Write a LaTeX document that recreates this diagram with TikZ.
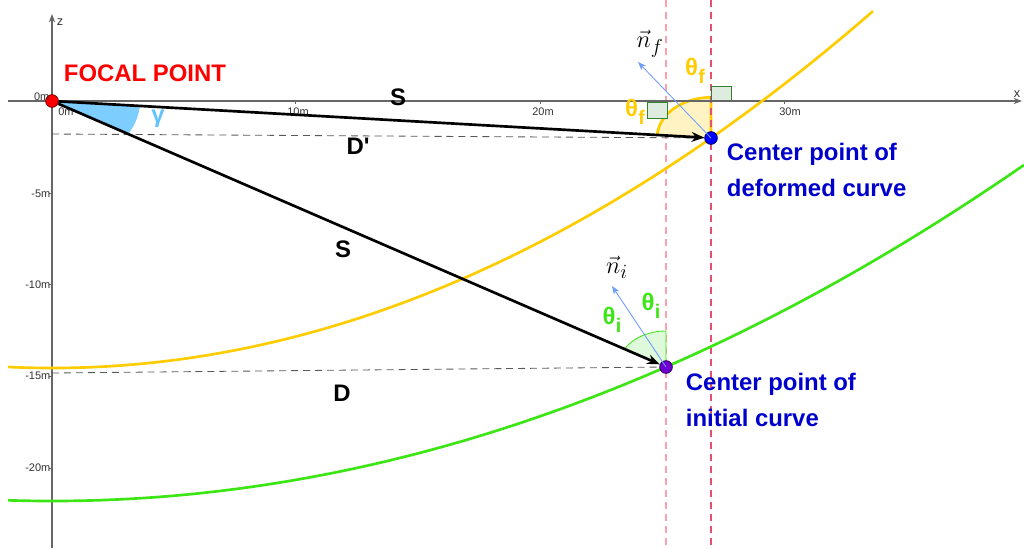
\documentclass[tikz,border=0pt]{standalone}
\usepackage{fontspec}
\setmainfont{Liberation Sans}
\newfontfamily\plainsans{Liberation Sans}
\usetikzlibrary{arrows.meta,backgrounds}
\definecolor{gold}{RGB}{255,204,0}
\definecolor{goldfill}{RGB}{255,243,196}
\definecolor{lgreen}{RGB}{60,230,20}
\definecolor{greenfill}{RGB}{222,250,218}
\definecolor{skyfill}{RGB}{125,205,255}
\definecolor{skytext}{RGB}{100,195,255}
\definecolor{nblue}{RGB}{110,155,255}
\definecolor{darkblue}{RGB}{0,0,204}
\definecolor{pinkA}{RGB}{255,160,175}
\definecolor{pinkB}{RGB}{230,80,110}
\definecolor{sqfill}{RGB}{222,236,224}
\definecolor{sqdraw}{RGB}{50,130,50}
\definecolor{ptpurple}{RGB}{110,0,210}
\newcommand\thl[1]{θ\kern0.3pt\raisebox{-0.6ex}{\fontsize{14}{14}\selectfont #1}}
\begin{document}
\begin{tikzpicture}[x=0.025cm,y=-0.025cm,
  ax/.style={draw=black!60, line width=0.9pt},
  pinkline/.style={dash pattern=on 5pt off 3.5pt, line width=0.8pt},
  curve/.style={line width=1.9pt},
  vecarrow/.style={draw=black, line width=1.9pt, -{Stealth[length=9pt,width=7pt]}},
  normalvec/.style={draw=nblue, line width=0.6pt, -{Stealth[length=6pt,width=4.5pt]}},
  dotpt/.style={circle, inner sep=0pt, minimum size=9pt, line width=0.6pt},
  big/.style={font=\fontsize{17}{25}\selectfont\bfseries},
  ticklab/.style={font=\fontsize{7.8}{9}\selectfont, text=black!80, inner sep=1pt},
  dashline/.style={draw=black!65, dash pattern=on 5pt off 3.5pt, line width=0.6pt},
  sq/.style={fill=sqfill, draw=sqdraw, line width=0.6pt},
]
\useasboundingbox (0,0) rectangle (1024,548);

% points
\node[dotpt, fill=red, draw=red!50!black] (O) at (52,101) {};
\node[dotpt, fill=blue, draw=blue!40!black] (F) at (711,138) {};
\node[dotpt, fill=ptpurple, draw=ptpurple!40!black] (I) at (666,367) {};

\coordinate (Dp0) at (52,134);
\coordinate (D0) at (52,373);
\coordinate (xa0) at (8,101);
\coordinate (xa1) at (1022,101);
\coordinate (za0) at (52,548);
\coordinate (za1) at (52,14);
\coordinate (pA0) at (666,0);
\coordinate (pA1) at (666,548);
\coordinate (pB0) at (711,0);
\coordinate (pB1) at (711,548);
\coordinate (nf) at (638,62);
\coordinate (ni) at (612,286);

\begin{scope}[on background layer]
  % pink verticals
  \draw[pinkline, pinkA] (pA0) -- (pA1);
  % sectors
  \fill[skyfill] (O.center) -- plot[domain=-29.95:-4.27,samples=30] ({52+88*cos(\x)},{101-66*sin(\x)}) -- cycle;
  \fill[goldfill] (F.center) -- plot[domain=90:175.73,samples=40] ({711+54*cos(\x)},{138-40.6*sin(\x)}) -- cycle;
  \draw[gold, line width=1.9pt] (F.center) -- plot[domain=90:175.73,samples=40] ({711+54*cos(\x)},{138-40.6*sin(\x)});
  \fill[greenfill] (I.center) -- plot[domain=90:150.05,samples=30] ({666+47.9*cos(\x)},{367-36*sin(\x)}) -- cycle;
  \draw[lgreen, line width=0.6pt] (I.center) -- plot[domain=90:150.05,samples=30] ({666+47.9*cos(\x)},{367-36*sin(\x)});
  \draw[pinkline, pinkB] (pB0) -- (pB1);
  % right-angle squares
  \draw[sq] (647,102) rectangle (667,118);
  \draw[sq] (711,86) rectangle (731,101);
  % axes
  \draw[ax, -{Stealth[length=6pt,width=4.5pt]}] (xa0) -- (xa1);
  \draw[ax, -{Stealth[length=6pt,width=4.5pt]}] (za0) -- (za1);
  \foreach \t in {295,540,784} \draw[ax, line width=0.6pt] (\t,101) -- (\t,104);
  \foreach \t in {193,284.5,376,468} \draw[ax, line width=0.6pt] (49,\t) -- (52,\t);
  % dashed distances
  \draw[dashline] (Dp0) -- (F.center);
  \draw[dashline] (D0) -- (I.center);
  % curves
  \draw[curve, gold] plot[domain=8:873,samples=120] (\x,{368-(0.023013*(\x-52))^2});
  \draw[curve, lgreen] plot[domain=8:1024,samples=120] (\x,{501-(0.018853*(\x-52))^2});
\end{scope}

% tick labels
\node[ticklab] (zl) at (60,22) {\fontsize{9}{9}\selectfont z};
\node[ticklab] (xl) at (1017,94) {\fontsize{9}{9}\selectfont x};
\node[ticklab, anchor=east] (l0a) at (51,97) {0m};
\node[ticklab] (l0b) at (66,112) {0m};
\node[ticklab] (l10) at (298,112) {10m};
\node[ticklab] (l20) at (543,112) {20m};
\node[ticklab] (l30) at (790,112) {30m};
\node[ticklab, anchor=east] (lm5) at (52,194) {-5m};
\node[ticklab, anchor=east] (lm10) at (52,285) {-10m};
\node[ticklab, anchor=east] (lm15) at (52,376) {-15m};
\node[ticklab, anchor=east] (lm20) at (52,468) {-20m};

% vectors
\draw[vecarrow] (O) -- (F);
\draw[vecarrow] (O) -- (I);
\draw[normalvec] (F.center) -- (nf);
\draw[normalvec] (I.center) -- (ni);

% labels
\node[big, text=red] (focal) at (145,73) {FOCAL POINT};
\node[big] (S1) at (398,97) {S};
\node[big] (S2) at (343,249) {S};
\node[big] (Dp) at (358,146) {\plainsans D'};
\node[big] (D) at (342,393) {D};
\node[big, text=skytext] (gam) at (158,119) {γ};
\node[big, text=gold] (thf1) at (695,71) {\thl{f}};
\node[big, text=gold] (thf2) at (635,112) {\thl{f}};
\node[big, text=lgreen] (thi1) at (612,320) {\thl{i}};
\node[big, text=lgreen] (thi2) at (651,306) {\thl{i}};
\node[font=\fontsize{19}{22}\selectfont] (nfl) at (650,44) {$\vec{n}_f$};
\node[font=\fontsize{19}{22}\selectfont] (nil) at (617,267) {$\vec{n}_i$};
\node[big, text=darkblue, anchor=west, align=left] (cf) at (722,170) {Center point of\\deformed curve};
\node[big, text=darkblue, anchor=west, align=left] (ci) at (681,400) {Center point of\\initial curve};
\end{tikzpicture}
\end{document}
